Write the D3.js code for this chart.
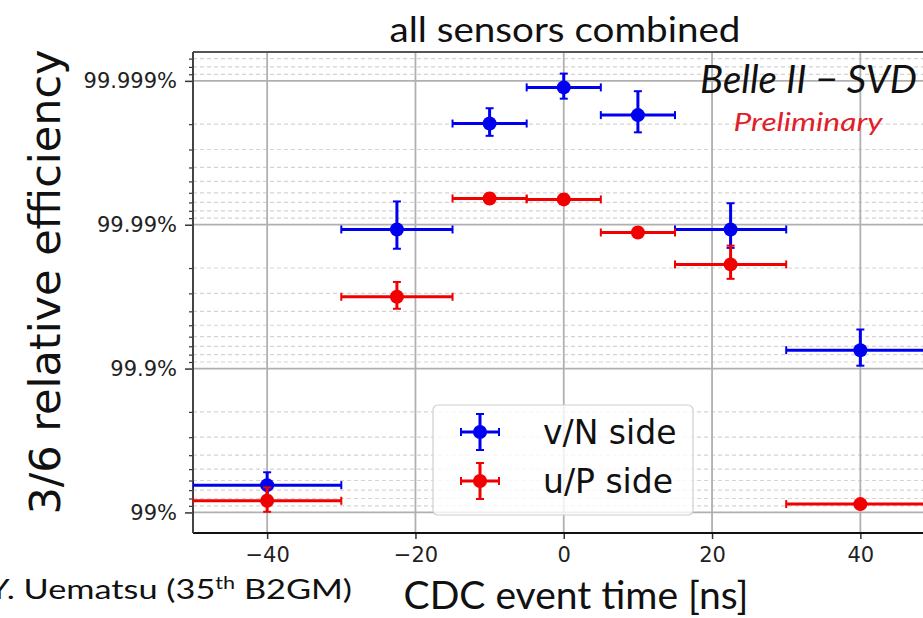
<!DOCTYPE html>
<html>
<head>
<meta charset="utf-8">
<script src="https://cdn.jsdelivr.net/npm/d3@7"></script>
<style>
    body { margin: 0; background: #fff; }
    svg { display: block; }
</style>
</head>
<body>
<div id="chart"></div>
<script>
// bins in CDC event time [ns]
var binCenter = [-40, -22.5, -10, 0, 10, 22.5, 40];
var binLow = [-50, -30, -15, -5, 5, 15, 30];
var binHigh = [-30, -15, -5, 5, 15, 30, 50];

// 3/6 relative efficiency in %, with its error in %
var effN = [99.354, 99.98921, 99.99802, 99.99889, 99.99827, 99.98921, 99.9255];
var errN = [0.12, 0.0039, 0.00043, 0.00022, 0.00055, 0.0037, 0.021];
var effP = [99.170, 99.9683, 99.99343, 99.99333, 99.98868, 99.98112, 99.125];
var errP = [0.16, 0.0067, 0.0005, 0.0005, 0.0008, 0.0049, 0.04];

var seriesNames = ["v/N side", "u/P side"];
var xTickValues = [-40, -20, 0, 20, 40];
var yTickValues = [99, 99.9, 99.99, 99.999];
var yTickLabels = ["99%", "99.9%", "99.99%", "99.999%"];

var width = 923;
var height = 618;
var plotLeft = 193, plotTop = 52, plotBottom = 533;

// efficiency -> inefficiency, plotted on a log axis (99% at the bottom)
function ineff(p) { return (100 - p) / 100; }

var x = d3.scaleLinear().domain([-50, 50]).range([plotLeft, 934.5]);
var y = d3.scaleLog().domain([6.3e-6, 1.39e-2]).range([plotTop, plotBottom]);

var svg = d3.select("#chart")
    .append("svg")
    .attr("width", width)
    .attr("height", height);

svg.append("defs").append("clipPath")
    .attr("id", "plot")
    .append("rect")
    .attr("x", plotLeft).attr("y", plotTop)
    .attr("width", width - plotLeft).attr("height", plotBottom - plotTop);

var majors = yTickValues.map(ineff);
var minors = y.ticks().filter(function (t) {
    var m = Math.round(t / Math.pow(10, Math.floor(Math.log10(t) + 1e-9)));
    return m !== 1 && m !== 10;
});

var grid = svg.append("g").attr("clip-path", "url(#plot)");

grid.selectAll(".minor")
    .data(minors)
    .enter()
    .append("line")
    .attr("x1", plotLeft).attr("x2", width)
    .attr("y1", function (d) { return y(d); })
    .attr("y2", function (d) { return y(d); })
    .attr("stroke", "#d4d4d4")
    .attr("stroke-width", 1.2)
    .attr("stroke-dasharray", "4,3");

grid.selectAll(".major")
    .data(majors)
    .enter()
    .append("line")
    .attr("x1", plotLeft).attr("x2", width)
    .attr("y1", function (d) { return y(d); })
    .attr("y2", function (d) { return y(d); })
    .attr("stroke", "#b0b0b0")
    .attr("stroke-width", 1.8);

grid.selectAll(".vgrid")
    .data(xTickValues)
    .enter()
    .append("line")
    .attr("x1", function (d) { return x(d); })
    .attr("x2", function (d) { return x(d); })
    .attr("y1", plotTop).attr("y2", plotBottom)
    .attr("stroke", "#b0b0b0")
    .attr("stroke-width", 1.8);

// axes
svg.append("g")
    .attr("transform", "translate(0," + plotBottom + ")")
    .call(d3.axisBottom(x).tickValues(xTickValues).tickSize(6).tickPadding(8)
        .tickFormat(function (d) { return d < 0 ? "\u2212" + Math.abs(d) : d; }))
    .call(function (g) {
        g.select(".domain").remove();
        g.selectAll("text").attr("font-family", "DejaVu Sans").attr("font-size", 21).attr("fill", "#222");
        g.selectAll("line").attr("stroke", "#333").attr("stroke-width", 1.5);
    });

svg.append("g")
    .attr("transform", "translate(" + plotLeft + ",0)")
    .call(d3.axisLeft(y).tickValues(minors).tickSize(4).tickFormat(""))
    .call(function (g) {
        g.select(".domain").remove();
        g.selectAll("line").attr("stroke", "#333").attr("stroke-width", 1.2);
    });

svg.append("g")
    .attr("transform", "translate(" + plotLeft + ",0)")
    .call(d3.axisLeft(y).tickValues(majors).tickSize(8).tickPadding(8)
        .tickFormat(function (d, i) { return yTickLabels[i]; }))
    .call(function (g) {
        g.select(".domain").remove();
        g.selectAll("text").attr("font-family", "DejaVu Sans").attr("font-size", 21).attr("fill", "#222");
        g.selectAll("line").attr("stroke", "#333").attr("stroke-width", 1.5);
    });

// spines
svg.append("line").attr("x1", plotLeft).attr("x2", width).attr("y1", plotTop).attr("y2", plotTop)
    .attr("stroke", "#555").attr("stroke-width", 2);
svg.append("line").attr("x1", plotLeft).attr("x2", width).attr("y1", plotBottom).attr("y2", plotBottom)
    .attr("stroke", "#111").attr("stroke-width", 2);
svg.append("line").attr("x1", plotLeft).attr("x2", plotLeft).attr("y1", plotTop).attr("y2", plotBottom)
    .attr("stroke", "#444").attr("stroke-width", 2);

// data with error bars
var series = [
    { name: seriesNames[0], color: "#0000f0", eff: effN, err: errN },
    { name: seriesNames[1], color: "#f00000", eff: effP, err: errP }
];
var cap = 4;

var marks = svg.append("g").attr("clip-path", "url(#plot)");

series.forEach(function (s) {
    var pts = binCenter.map(function (c, i) {
        return { c: c, lo: binLow[i], hi: binHigh[i], v: s.eff[i], e: s.err[i] };
    });
    var g = marks.append("g")
        .attr("stroke", s.color)
        .attr("fill", s.color)
        .attr("stroke-width", 3);

    var pt = g.selectAll("g")
        .data(pts)
        .enter()
        .append("g");

    pt.append("line")
        .attr("x1", function (d) { return x(d.lo); })
        .attr("x2", function (d) { return x(d.hi); })
        .attr("y1", function (d) { return y(ineff(d.v)); })
        .attr("y2", function (d) { return y(ineff(d.v)); });
    pt.append("line")
        .attr("x1", function (d) { return x(d.lo); })
        .attr("x2", function (d) { return x(d.lo); })
        .attr("y1", function (d) { return y(ineff(d.v)) - cap; })
        .attr("y2", function (d) { return y(ineff(d.v)) + cap; })
        .attr("stroke-width", 2);
    pt.append("line")
        .attr("x1", function (d) { return x(d.hi); })
        .attr("x2", function (d) { return x(d.hi); })
        .attr("y1", function (d) { return y(ineff(d.v)) - cap; })
        .attr("y2", function (d) { return y(ineff(d.v)) + cap; })
        .attr("stroke-width", 2);

    pt.append("line")
        .attr("x1", function (d) { return x(d.c); })
        .attr("x2", function (d) { return x(d.c); })
        .attr("y1", function (d) { return y(ineff(d.v + d.e)); })
        .attr("y2", function (d) { return y(ineff(d.v - d.e)); });
    [1, -1].forEach(function (sign) {
        pt.append("line")
            .attr("x1", function (d) { return x(d.c) - cap; })
            .attr("x2", function (d) { return x(d.c) + cap; })
            .attr("y1", function (d) { return y(ineff(d.v + sign * d.e)); })
            .attr("y2", function (d) { return y(ineff(d.v + sign * d.e)); })
            .attr("stroke-width", 2);
    });

    pt.append("circle")
        .attr("cx", function (d) { return x(d.c); })
        .attr("cy", function (d) { return y(ineff(d.v)); })
        .attr("r", 7)
        .attr("stroke", "none");
});

// legend
var legend = svg.append("g").attr("transform", "translate(433,405)");
legend.append("rect")
    .attr("width", 260).attr("height", 110).attr("rx", 5)
    .attr("fill", "#fff").attr("fill-opacity", 0.8)
    .attr("stroke", "#d0d0d0").attr("stroke-width", 1.2);

series.forEach(function (s, i) {
    var ly = 27 + i * 49;
    var lg = legend.append("g").attr("transform", "translate(47," + ly + ")")
        .attr("stroke", s.color).attr("fill", s.color).attr("stroke-width", 3);
    lg.append("line").attr("x1", -19).attr("x2", 19);
    lg.append("line").attr("y1", -18).attr("y2", 18);
    lg.append("line").attr("x1", -19).attr("x2", -19).attr("y1", -cap).attr("y2", cap).attr("stroke-width", 2);
    lg.append("line").attr("x1", 19).attr("x2", 19).attr("y1", -cap).attr("y2", cap).attr("stroke-width", 2);
    lg.append("line").attr("y1", -18).attr("y2", -18).attr("x1", -cap).attr("x2", cap).attr("stroke-width", 2);
    lg.append("line").attr("y1", 18).attr("y2", 18).attr("x1", -cap).attr("x2", cap).attr("stroke-width", 2);
    lg.append("circle").attr("r", 7).attr("stroke", "none");
    legend.append("text")
        .attr("x", 110).attr("y", ly + 12)
        .attr("font-family", "DejaVu Sans").attr("font-size", 33)
        .attr("fill", "#111")
        .text(s.name);
});

// squeeze/stretch a text horizontally so it spans the given width
function fitText(t, x0, y0, w, anchor) {
    t.attr("text-anchor", anchor);
    var k = w / t.node().getComputedTextLength();
    t.attr("transform", "translate(" + x0 + "," + y0 + ") scale(" + k + ",1)");
}

// labels
var title = svg.append("text")
    .attr("font-family", "Lato").attr("font-size", 34)
    .attr("fill", "#111")
    .text("all sensors combined");
fitText(title, 565, 42, 351, "middle");

svg.append("text")
    .attr("transform", "translate(60,282) rotate(-90)")
    .attr("text-anchor", "middle")
    .attr("font-family", "DejaVu Sans").attr("font-size", 43)
    .attr("fill", "#111")
    .text("3/6 relative efficiency");

var xLabel = svg.append("text")
    .attr("font-family", "Lato").attr("font-size", 39)
    .attr("fill", "#111")
    .text("CDC event time [ns]");
fitText(xLabel, 576, 609, 345, "middle");

var belle = svg.append("text")
    .attr("font-family", "Lato").attr("font-style", "italic").attr("font-size", 39)
    .attr("fill", "#111")
    .text("Belle II \u2212 SVD");
fitText(belle, 917, 93, 217, "end");

var prelim = svg.append("text")
    .attr("font-family", "Lato").attr("font-style", "italic")
    .attr("font-size", 25)
    .attr("fill", "#e0202a")
    .text("Preliminary");
fitText(prelim, 808, 131, 149, "middle");

var credit = svg.append("text")
    .attr("font-family", "Lato").attr("font-size", 27)
    .attr("fill", "#111");
credit.append("tspan").text("Y. Uematsu (35");
credit.append("tspan").attr("dy", -10).attr("font-size", 17).text("th");
credit.append("tspan").attr("dy", 10).text(" B2GM)");
fitText(credit, 352, 599, 364, "end");
</script>
</body>
</html>
